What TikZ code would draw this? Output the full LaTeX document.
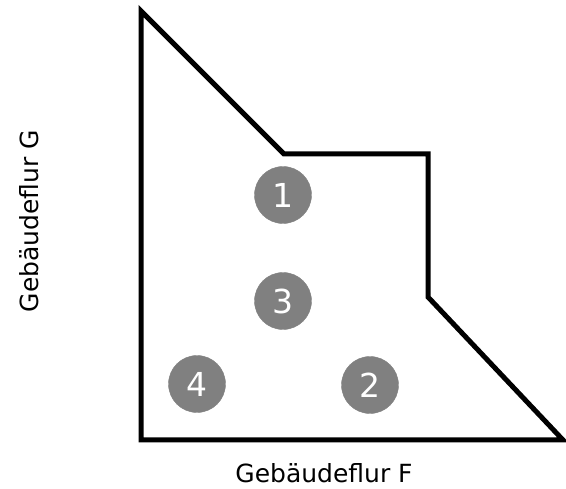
\documentclass[tikz,border=0pt]{standalone}
\usepackage{fontspec}
\setmainfont{DejaVu Sans}
\begin{document}
\begin{tikzpicture}[x=1pt,y=-1pt,
  num/.style={circle,fill=black!50,draw=black!50,minimum size=57pt,inner sep=0pt,text=white,font=\fontsize{33}{33}\selectfont},
  lbl/.style={font=\fontsize{25}{25}\selectfont,inner sep=0pt}]
\useasboundingbox (0,0) rectangle (566,489);
\coordinate (a) at (141,11);
\coordinate (b) at (284,154);
\coordinate (c) at (428,154);
\coordinate (d) at (428,297);
\coordinate (e) at (563,440);
\coordinate (f) at (141,440);
\draw[line width=5pt,line join=miter] (a) -- (b) -- (c) -- (d) -- (e) -- (f) -- cycle;
\node[num] (n1) at (283,195) {1};
\node[num] (n3) at (283,301) {3};
\node[num] (n4) at (197,384) {4};
\node[num] (n2) at (370,385) {2};
\node[lbl] (lf) at (324,473) {Gebäudeflur F};
\node[lbl,rotate=90] (lg) at (29,221) {Gebäudeflur G};
\end{tikzpicture}
\end{document}
